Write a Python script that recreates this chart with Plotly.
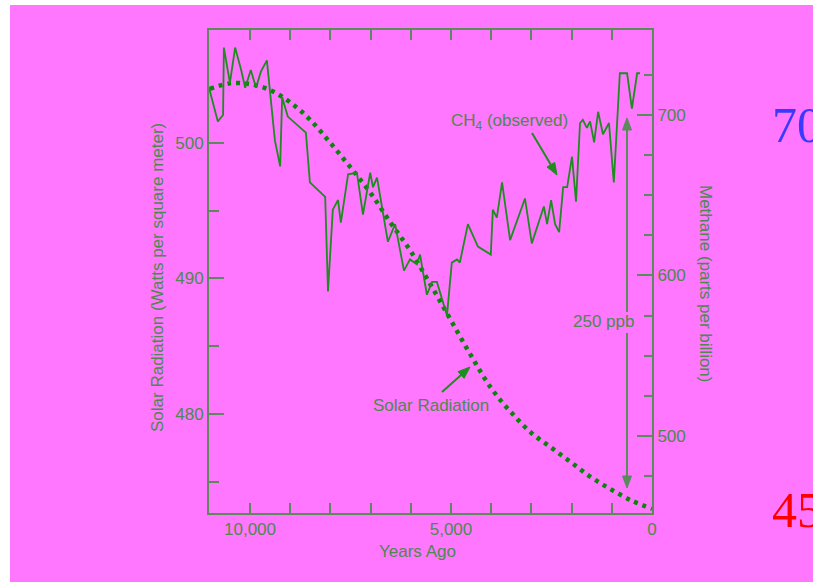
import math
import plotly.graph_objects as go

# ---------------- data ----------------
solar_years = [11000, 10500, 10000, 9500, 9000, 8500, 8000, 7500, 7000, 6500, 6000,
               5500, 5000, 4500, 4000, 3500, 3000, 2500, 2000, 1500, 1000, 500, 0]
solar_wm2 = [504.0, 504.4, 504.35, 503.9, 503.0, 501.7, 500.0, 498.2, 496.3, 494.1, 492.0,
             489.5, 486.9, 484.3, 481.9, 480.1, 478.6, 477.5, 476.4, 475.3, 474.4, 473.6, 473.0]

ch4_years = [11020, 10800, 10670, 10650, 10500, 10370, 10220, 10120, 9980, 9850, 9730, 9580,
             9380, 9250, 9200, 9060, 8610, 8510, 8130, 8060, 7940, 7810, 7740, 7560, 7340,
             7190, 7010, 6940, 6840, 6720, 6570, 6390, 6170, 6020, 5850, 5770, 5600, 5470,
             5350, 5220, 5100, 4980, 4850, 4780, 4580, 4330, 4010, 3960, 3860, 3730, 3530,
             3160, 2990, 2690, 2610, 2510, 2410, 2310, 2210, 2110, 1990, 1890, 1790, 1720,
             1620, 1540, 1440, 1340, 1220, 1070, 950, 800, 620, 500, 370, 300]
ch4_ppb = [717, 696, 700, 742, 720, 742, 728, 717, 728, 717, 727, 734,
           684, 668, 711, 699, 689, 658, 649, 590, 641, 647, 633, 663, 664,
           638, 664, 655, 661, 643, 621, 632, 603, 610, 607, 613, 588, 596,
           596, 585, 575, 608, 610, 608, 632, 618, 613, 641, 636, 658, 622,
           648, 620, 643, 632, 647, 632, 627, 655, 655, 674, 646, 695, 697,
           692, 696, 683, 702, 688, 695, 658, 726, 726, 704, 726, 726]

x_tick_vals = [10000, 9000, 8000, 7000, 6000, 5000, 4000, 3000, 2000, 1000, 0]
x_tick_text = ["10,000", "", "", "", "", "5,000", "", "", "", "", "0"]
solar_tick_vals = [480, 490, 500]
solar_minor_vals = [475, 485, 495]
ch4_tick_vals = [500, 600, 700]
ch4_minor_vals = [475, 525, 550, 575, 625, 650, 675, 725]

# ---------------- style ----------------
W, H = 813, 582
L, R, T, B = 209, 652, 30, 513
MAGENTA = "#ff77ff"
AXC = "#5b8a5b"
TXT = "#4e884e"
LINE = "#1f8c1f"
DOT = "#0a870a"
FONT = "Liberation Sans, Arial, Helvetica, sans-serif"

def px(xp):
    return (xp - L) / (R - L)

def py(yp):
    return (B - yp) / (B - T)

fig = go.Figure()
fig.add_trace(go.Scatter(x=solar_years, y=solar_wm2, mode="lines",
                         line=dict(color=DOT, width=4.5, dash="4px,5px", shape="spline"),
                         xaxis="x", yaxis="y", hoverinfo="skip", showlegend=False))
fig.add_trace(go.Scatter(x=ch4_years, y=ch4_ppb, mode="lines",
                         line=dict(color=LINE, width=1.8),
                         xaxis="x", yaxis="y2", hoverinfo="skip", showlegend=False))
fig.add_trace(go.Scatter(x=[5000], y=[490], mode="markers", marker=dict(opacity=0),
                         xaxis="x2", yaxis="y", hoverinfo="skip", showlegend=False))

axis_common = dict(showgrid=False, zeroline=False, showline=True, linewidth=2, linecolor=AXC,
                   ticks="inside", tickwidth=2, tickcolor=AXC,
                   tickfont=dict(family=FONT, size=17, color=TXT))

fig.update_layout(
    width=W, height=H,
    margin=dict(l=L, r=W - R, t=T, b=H - B, pad=0),
    paper_bgcolor="white", plot_bgcolor=MAGENTA,
    showlegend=False,
    xaxis=dict(range=[11020, 0], tickmode="array", tickvals=x_tick_vals, ticktext=x_tick_text,
               ticklen=10, ticklabelstandoff=0, anchor="y", **axis_common),
    xaxis2=dict(range=[11020, 0], overlaying="x", side="top", anchor="y",
                tickmode="array", tickvals=x_tick_vals[:-1], showticklabels=False,
                ticklen=10, **axis_common),
    yaxis=dict(range=[472.69, 508.34], tickmode="array", tickvals=solar_tick_vals,
               ticklen=15, ticklabelstandoff=0,
               minor=dict(tickvals=solar_minor_vals, ticklen=10, tickwidth=2, tickcolor=AXC, ticks="inside"),
               **axis_common),
    yaxis2=dict(range=[452.0, 752.96], overlaying="y", side="right", anchor="x",
                tickmode="array", tickvals=ch4_tick_vals, ticklen=15, ticklabelstandoff=0,
                minor=dict(tickvals=ch4_minor_vals, ticklen=8, tickwidth=2, tickcolor=AXC, ticks="inside"),
                **axis_common),
)

# magenta page background (white strip at left / top)
fig.add_shape(type="rect", xref="paper", yref="paper", layer="below",
              x0=px(10), x1=px(W + 5), y0=py(5), y1=py(H + 5),
              fillcolor=MAGENTA, line=dict(width=0))

def txt(text, x, y, size=17, color=TXT, xanchor="left", family=FONT, angle=0):
    fig.add_annotation(text=text, xref="paper", yref="paper", x=px(x), y=py(y),
                       xanchor=xanchor, yanchor="middle", showarrow=False, textangle=angle,
                       font=dict(family=family, size=size, color=color))

txt("Solar Radiation (Watts per square meter)", 157, 278, xanchor="center", angle=-90)
txt("Methane (parts per billion)", 706, 283, xanchor="center", angle=90)
txt("Years Ago", 417, 551, xanchor="center")
txt("CH<sub>4</sub> (observed)", 449, 122)
txt("Solar Radiation", 371, 405)
txt("250 ppb", 571, 321)
txt("70", 770, 125, size=50, color="#3a3aff", family="Liberation Serif, Times New Roman, serif")
txt("45", 770, 510, size=50, color="#ff0000", family="Liberation Serif, Times New Roman, serif")

def arrow(x0, y0, x1, y1, color, head_len=12, head_w=9, width=2):
    dx, dy = x1 - x0, y1 - y0
    d = math.hypot(dx, dy)
    ux, uy = dx / d, dy / d
    bx, by = x1 - ux * head_len, y1 - uy * head_len
    fig.add_shape(type="line", xref="paper", yref="paper",
                  x0=px(x0), y0=py(y0), x1=px(bx), y1=py(by),
                  line=dict(color=color, width=width))
    nx, ny = -uy, ux
    pts = [(x1, y1), (bx + nx * head_w / 2, by + ny * head_w / 2), (bx - nx * head_w / 2, by - ny * head_w / 2)]
    path = "M " + " L ".join(f"{px(a):.5f},{py(b):.5f}" for a, b in pts) + " Z"
    fig.add_shape(type="path", xref="paper", yref="paper", path=path,
                  fillcolor=color, line=dict(color=color, width=1))

arrow(532, 133, 557, 175, LINE)
arrow(442, 392, 470, 367, LINE)
arrow(627, 312, 627, 118, AXC)
arrow(627, 333, 627, 488, AXC)

fig.write_html("out.html", config={"displayModeBar": False},
               post_script="document.body.style.margin='0';document.body.style.overflow='hidden';")
